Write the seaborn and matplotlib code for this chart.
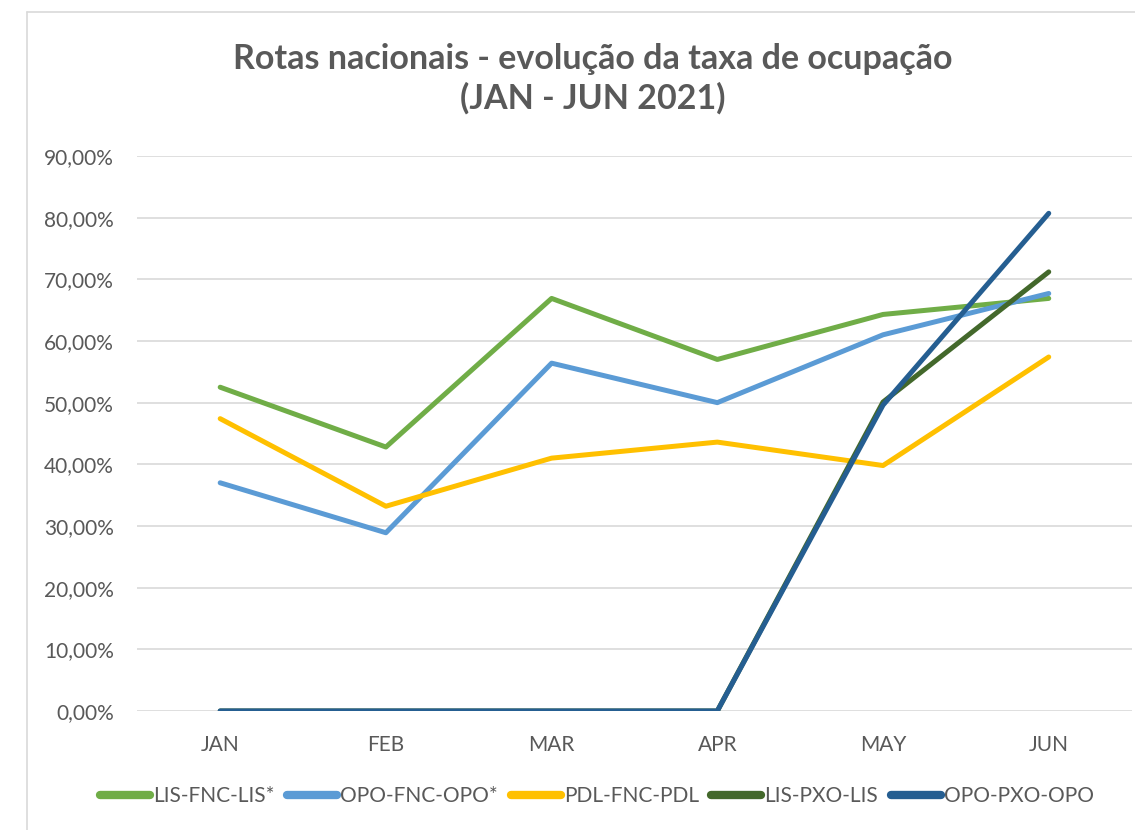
import matplotlib.pyplot as plt
import seaborn as sns
import pandas as pd
from matplotlib.ticker import FuncFormatter, MultipleLocator
from matplotlib.lines import Line2D

# ── Data (occupancy rate, %) ──────────────────────────────────────────────────
months = ["JAN", "FEB", "MAR", "APR", "MAY", "JUN"]
routes = ["LIS-FNC-LIS*", "OPO-FNC-OPO*", "PDL-FNC-PDL", "LIS-PXO-LIS", "OPO-PXO-OPO"]

lis_fnc_lis = [52.5, 42.8, 66.9, 57.0, 64.3, 66.9]
opo_fnc_opo = [37.0, 28.9, 56.4, 50.0, 61.0, 67.7]
pdl_fnc_pdl = [47.4, 33.2, 41.0, 43.6, 39.8, 57.4]
lis_pxo_lis = [0.0, 0.0, 0.0, 0.0, 50.1, 71.2]
opo_pxo_opo = [0.0, 0.0, 0.0, 0.0, 49.6, 80.7]

colors = ["#70AD47", "#5B9BD5", "#FFC000", "#43682B", "#255E91"]

df = pd.DataFrame({
    "month": months * len(routes),
    "route": [r for r in routes for _ in months],
    "rate": lis_fnc_lis + opo_fnc_opo + pdl_fnc_pdl + lis_pxo_lis + opo_pxo_opo,
})

# ── Style ─────────────────────────────────────────────────────────────────────
sns.set_theme(style="white")
plt.rcParams["font.family"] = ["Lato", "DejaVu Sans"]
GREY = "#595959"

fig = plt.figure(figsize=(11.35, 8.3), dpi=100)
ax = fig.add_axes([0.121, 0.1434, 0.876, 0.6687])

sns.lineplot(data=df, x="month", y="rate", hue="route", hue_order=routes,
             palette=colors, sort=False, linewidth=3.6, ax=ax, legend=False,
             solid_capstyle="round", solid_joinstyle="round")

ax.set_xlim(-0.5, 5.5)
ax.set_ylim(0, 90)
ax.yaxis.set_major_locator(MultipleLocator(10))
ax.yaxis.set_major_formatter(FuncFormatter(lambda v, _: f"{v:.2f}%".replace(".", ",")))
ax.grid(axis="y", color="#D9D9D9", linewidth=1.2)
ax.set_axisbelow(True)
for s in ax.spines.values():
    s.set_visible(False)
ax.tick_params(axis="both", length=0, labelsize=15, labelcolor=GREY, pad=17)
ax.set_xlabel("")
ax.set_ylabel("")

fig.text(0.5225, 0.9054, "Rotas nacionais - evolução da taxa de ocupação\n(JAN - JUN 2021)",
         ha="center", va="center", fontsize=24.5, fontweight="bold", color=GREY,
         linespacing=1.25)

handles = [Line2D([0], [0], color=c, linewidth=6, solid_capstyle="round") for c in colors]
ax.legend(handles, routes, loc="center", bbox_to_anchor=(0.526, 0.041),
          bbox_transform=fig.transFigure, ncol=5, frameon=False, fontsize=15,
          labelcolor=GREY, handlelength=2.4, handletextpad=0.15, columnspacing=0.6)

# chart border (Excel-like)
fig.add_artist(Line2D([0.024, 0.024], [0, 0.9855], color="#D9D9D9", linewidth=1.2))
fig.add_artist(Line2D([0.024, 1.0], [0.9855, 0.9855], color="#D9D9D9", linewidth=1.2))

plt.savefig("out.png", dpi=100)
